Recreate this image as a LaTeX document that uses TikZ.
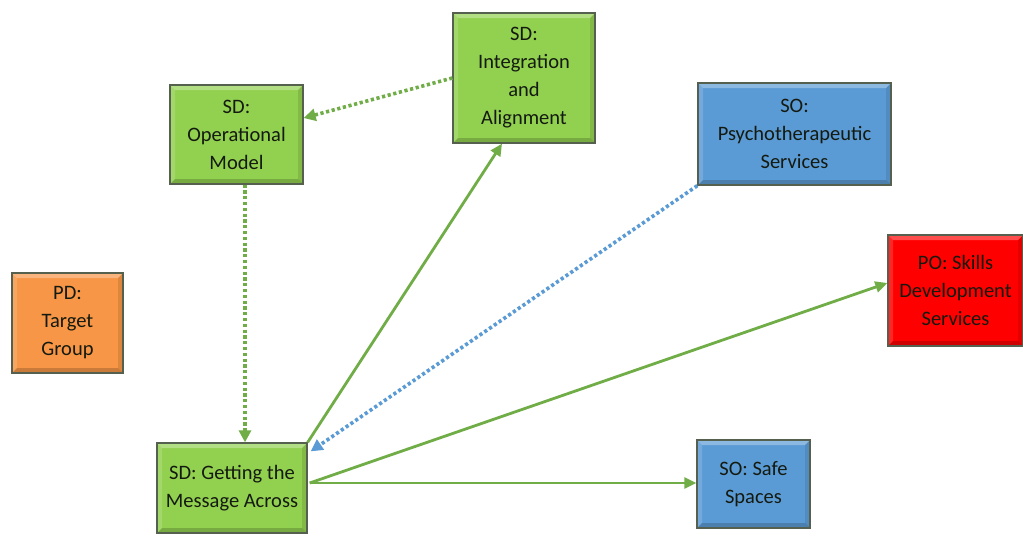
\documentclass[tikz,border=0pt]{standalone}
\usepackage{fontspec}
\setmainfont{Carlito}
\usetikzlibrary{arrows.meta}
\definecolor{sdgreen}{HTML}{92D050}
\definecolor{soblue}{HTML}{5B9BD5}
\definecolor{pored}{HTML}{FF0000}
\definecolor{pdorange}{HTML}{F79646}
\definecolor{linkgreen}{HTML}{70AD47}
\definecolor{linkblue}{HTML}{5B9BD5}
\definecolor{edgegray}{HTML}{56604F}
\definecolor{labeltext}{HTML}{141A10}
\tikzset{
  bevelbox/.style={
    draw=edgegray, line width=1.3pt, inner sep=0pt, align=center,
    text=labeltext, font=\fontsize{20.5}{28}\selectfont,
    path picture={
      \fill[white,opacity=0.3] (path picture bounding box.north west) -- (path picture bounding box.north east)
        -- ([xshift=-5pt,yshift=-5pt]path picture bounding box.north east) -- ([xshift=5pt,yshift=-5pt]path picture bounding box.north west) -- cycle;
      \fill[white,opacity=0.15] (path picture bounding box.north west) -- ([xshift=5pt,yshift=-5pt]path picture bounding box.north west)
        -- ([xshift=5pt,yshift=5pt]path picture bounding box.south west) -- (path picture bounding box.south west) -- cycle;
      \fill[black,opacity=0.18] (path picture bounding box.south west) -- ([xshift=5pt,yshift=5pt]path picture bounding box.south west)
        -- ([xshift=-5pt,yshift=5pt]path picture bounding box.south east) -- (path picture bounding box.south east) -- cycle;
      \fill[black,opacity=0.1] (path picture bounding box.north east) -- (path picture bounding box.south east)
        -- ([xshift=-5pt,yshift=5pt]path picture bounding box.south east) -- ([xshift=-5pt,yshift=-5pt]path picture bounding box.north east) -- cycle;
    }},
  sdbox/.style={bevelbox, fill=sdgreen},
  sobox/.style={bevelbox, fill=soblue},
  pobox/.style={bevelbox, fill=pored},
  pdbox/.style={bevelbox, fill=pdorange},
  link/.style={draw=linkgreen, line width=2.8pt, -{Triangle[length=12pt,width=11pt]}},
  dotlink/.style={line width=3.6pt, dash pattern=on 3.2pt off 2.6pt, -{Triangle[length=12pt,width=12pt]}},
}
\begin{document}
\begin{tikzpicture}[x=1pt,y=-1pt]
  \useasboundingbox[fill=white] (0,0) rectangle (1023,536);

  % strategy-design boxes
  \node[sdbox, minimum width=133pt, minimum height=99pt]  (op)  at (236.5,134.5) {SD:\\Operational\\Model};
  \node[sdbox, minimum width=142pt, minimum height=130pt] (int) at (524,78) {SD:\\Integration\\and\\Alignment};
  \node[sdbox, minimum width=150pt, minimum height=90pt]  (get) at (232,488) {SD: Getting the\\Message Across};

  % outcome boxes
  \node[sobox, minimum width=193pt, minimum height=102pt] (psy)  at (794.5,134) {SO:\\Psychotherapeutic\\Services};
  \node[sobox, minimum width=113pt, minimum height=88pt]  (safe) at (753.5,484) {SO: Safe\\Spaces};
  \node[pobox, minimum width=135pt, minimum height=111pt] (po)   at (955.5,290.5) {PO: Skills\\Development\\Services};
  \node[pdbox, minimum width=111pt, minimum height=100pt] (pd)   at (67.5,323) {PD:\\Target\\Group};

  % connectors
  \draw[dotlink, draw=linkgreen] (int.west) -- ([yshift=16.5pt]op.east);
  \draw[dotlink, draw=linkgreen] ([xshift=8.5pt]op.south) -- ([xshift=13pt]get.north);
  \draw[link] (get.north east) -- ([xshift=-22pt]int.south);
  \draw[dotlink, draw=linkblue] (psy.south west) -- ([xshift=3pt,yshift=-9pt]get.north east);
  \coordinate (out) at ([xshift=2pt,yshift=5pt]get.east);
  \draw[link] (out) -- ([yshift=7.5pt]po.west);
  \draw[link] (out) -- (out -| safe.west);
\end{tikzpicture}
\end{document}
